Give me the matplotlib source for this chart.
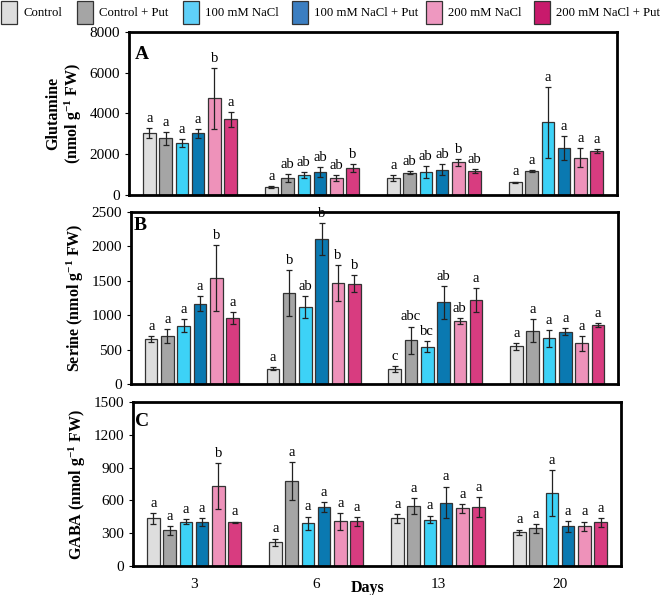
import matplotlib
matplotlib.use("Agg")
import matplotlib.pyplot as plt
import numpy as np
from matplotlib.patches import Rectangle

plt.rcParams['font.family'] = ['Liberation Serif', 'DejaVu Serif']
plt.rcParams['mathtext.fontset'] = 'custom'
plt.rcParams['mathtext.rm'] = 'Liberation Serif'
plt.rcParams['mathtext.bf'] = 'Liberation Serif:bold'
plt.rcParams['mathtext.default'] = 'bf'

treatments = ["Control", "Control + Put", "100 mM NaCl", "100 mM NaCl + Put",
              "200 mM NaCl", "200 mM NaCl + Put"]
days = ["3", "6", "13", "20"]
bar_colors = ["#dedede", "#a5a5a5", "#3dd2f7", "#0a79b1", "#ee92ba", "#d83c80"]
legend_colors = ["#dedede", "#a5a5a5", "#5fd0f8", "#3b7ec1", "#ee98c0", "#c81a6c"]

# Glutamine: rows = treatments, cols = days
glu = [[3050, 410, 850, 620],
       [2780, 815, 1090, 1190],
       [2560, 960, 1140, 3560],
       [3020, 1110, 1240, 2300],
       [4750, 830, 1600, 1830],
       [3710, 1320, 1175, 2150]]
glu_err = [[230, 50, 150, 40],
           [330, 200, 70, 40],
           [200, 150, 300, 1720],
           [200, 250, 270, 600],
           [1500, 150, 180, 480],
           [350, 200, 100, 100]]
glu_let = [["a", "a", "a", "a"],
           ["a", "ab", "ab", "a"],
           ["a", "ab", "ab", "a"],
           ["a", "ab", "ab", "a"],
           ["b", "ab", "b", "a"],
           ["a", "b", "ab", "a"]]

ser = [[655, 225, 220, 550],
       [700, 1325, 635, 775],
       [850, 1120, 545, 665],
       [1170, 2105, 1185, 760],
       [1540, 1465, 915, 590],
       [955, 1460, 1220, 855]]
ser_err = [[40, 25, 40, 50],
           [100, 330, 200, 170],
           [100, 160, 80, 120],
           [110, 230, 240, 50],
           [480, 260, 40, 110],
           [90, 120, 180, 25]]
ser_let = [["a", "a", "c", "a"],
           ["a", "b", "abc", "a"],
           ["a", "ab", "bc", "a"],
           ["a", "b", "ab", "a"],
           ["b", "b", "ab", "a"],
           ["a", "b", "a", "a"]]

gaba = [[435, 215, 435, 307],
        [325, 778, 548, 343],
        [405, 392, 425, 670],
        [405, 540, 580, 362],
        [732, 408, 527, 362],
        [400, 408, 537, 400]]
gaba_err = [[50, 35, 40, 25],
            [40, 175, 70, 40],
            [25, 60, 35, 210],
            [35, 45, 145, 50],
            [210, 75, 40, 45],
            [5, 40, 90, 40]]
gaba_let = [["a", "a", "a", "a"],
            ["a", "a", "a", "a"],
            ["a", "a", "a", "a"],
            ["a", "a", "a", "a"],
            ["b", "a", "a", "a"],
            ["a", "a", "a", "a"]]

W, H = 661, 595
fig = plt.figure(figsize=(W / 100, H / 100), dpi=100)

def px_axes(l, t, r, b):
    return fig.add_axes([l / W, 1 - b / H, (r - l) / W, (b - t) / H])

panels = [
    dict(box=(129, 32, 617, 195), vals=glu, err=glu_err, let=glu_let, ymax=8000, step=2000,
         ylabel="Glutamine\n(nmol g$^{-1}$ FW)", tag="A", tagpos=(0.012, 0.86), off=150,
         showx=False),
    dict(box=(131, 212, 618, 384), vals=ser, err=ser_err, let=ser_let, ymax=2500, step=500,
         ylabel="Serine (nmol g$^{-1}$ FW)", tag="B", tagpos=(0.005, 0.92), off=45,
         showx=False),
    dict(box=(133, 402, 621, 566), vals=gaba, err=gaba_err, let=gaba_let, ymax=1500, step=300,
         ylabel="GABA (nmol g$^{-1}$ FW)", tag="C", tagpos=(0.005, 0.88), off=30,
         showx=True),
]

x = np.arange(len(days))
spacing = 0.1336
width = 0.103
for p in panels:
    ax = px_axes(*p["box"])
    for i, t in enumerate(treatments):
        xs = x + (i - 2.5) * spacing
        v = np.array(p["vals"][i], dtype=float)
        e = np.array(p["err"][i], dtype=float)
        ax.bar(xs, v, width=width, color=bar_colors[i], edgecolor="#333333", linewidth=0.9, zorder=2)
        ax.errorbar(xs, v, yerr=e, fmt="none", ecolor="#222222", elinewidth=0.9,
                    capsize=2.2, capthick=0.9, zorder=3)
        for xx, vv, ee, lt in zip(xs, v, e, p["let"][i]):
            ax.text(xx, vv + ee + p["off"], lt, ha="center", va="bottom", fontsize=10.5)
    ax.set_xlim(-0.5, 3.5)
    ax.set_ylim(0, p["ymax"])
    ax.set_yticks(np.arange(0, p["ymax"] + 1, p["step"]))
    ax.tick_params(axis="y", labelsize=11, length=3, width=0.8, direction="out")
    ax.set_xticks(x)
    if p["showx"]:
        ax.set_xticklabels(days, fontsize=11)
        ax.tick_params(axis="x", length=0, pad=9)
    else:
        ax.set_xticklabels([])
        ax.tick_params(axis="x", length=0)
    for s in ax.spines.values():
        s.set_linewidth(2.0)
        s.set_color("black")
    ax.set_ylabel(p["ylabel"], fontsize=11.5, fontweight="bold", labelpad=4, linespacing=1.1)
    ax.text(p["tagpos"][0], p["tagpos"][1], p["tag"], transform=ax.transAxes,
            fontsize=14, fontweight="bold", ha="left", va="center")
    if p["showx"]:
        ax.text((368 - p["box"][0]) / (p["box"][2] - p["box"][0]),
                -(588 - p["box"][3]) / (p["box"][3] - p["box"][1]), "Days",
                transform=ax.transAxes, ha="center", va="center",
                fontsize=11.5, fontweight="bold")

# legend across the top, laid out in figure pixels
patch_left = [1, 77, 183, 292, 426, 534]
patch_w, patch_top, patch_bot = 16, 1, 24
for c, lbl, pl in zip(legend_colors, treatments, patch_left):
    fig.patches.append(Rectangle((pl / W, 1 - patch_bot / H), patch_w / W,
                                 (patch_bot - patch_top) / H, transform=fig.transFigure,
                                 facecolor=c, edgecolor="#333333", linewidth=0.9))
    fig.text((pl + patch_w + 6) / W, 1 - 12.5 / H, lbl, ha="left", va="center", fontsize=9.2)

fig.savefig("out.png", dpi=100)
